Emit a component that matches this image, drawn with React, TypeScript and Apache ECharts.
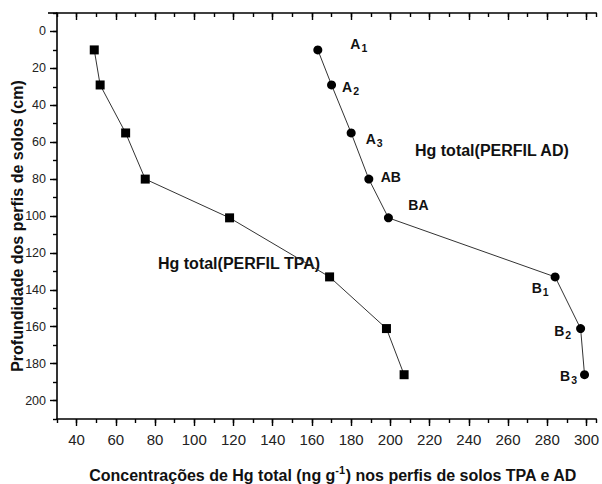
import React, { useEffect, useRef } from "react";
import * as echarts from "echarts";

// Depth (cm) of each soil horizon sample
const depths = [10, 29, 55, 80, 101, 133, 161, 186];
// Hg total concentration, TPA profile (ng g-1)
const tpaValues = [49, 52, 65, 75, 118, 169, 198, 207];
// Hg total concentration, AD profile (ng g-1)
const adValues = [163, 170, 180, 189, 199, 284, 297, 299];
// Horizon names (base + subscript)
const horizonBase = ["A", "A", "A", "AB", "BA", "B", "B", "B"];
const horizonSub = ["1", "2", "3", "", "", "1", "2", "3"];
// Tick labels
const xTickLabels = [40, 60, 80, 100, 120, 140, 160, 180, 200, 220, 240, 260, 280, 300];
const yTickLabels = [0, 20, 40, 60, 80, 100, 120, 140, 160, 180, 200];

const FONT = "'Liberation Sans', Arial, sans-serif";
const labelOffsets: [number, number][] = [
  [41, -6], [19, 2], [23, 6], [22, -2], [30, -13], [-15, 11], [-18, 2], [-16, 1],
];

export default function App() {
  const ref = useRef<HTMLDivElement>(null);
  useEffect(() => {
    if (!ref.current) return;
    const chart = echarts.init(ref.current, null, { renderer: "svg" });
    const axisLineStyle = { color: "#000", width: 1.6 };
    const tickStyle = { color: "#000", width: 1.4 };
    const xCommon = { type: "value" as const, min: 30, max: 305, splitLine: { show: false } };
    const yCommon = { type: "value" as const, min: -10, max: 210, inverse: true, splitLine: { show: false } };
    chart.setOption({
      animation: false,
      backgroundColor: "#fff",
      grid: { left: 57, top: 13, right: -1, bottom: 65 },
      xAxis: [
        {
          ...xCommon, position: "bottom", interval: 10,
          axisLine: { show: true, onZero: false, lineStyle: axisLineStyle },
          axisTick: { show: true, length: 4, lineStyle: tickStyle },
          axisLabel: { show: false },
        },
        {
          ...xCommon, position: "bottom",
          axisLine: { show: false, onZero: false },
          axisTick: { show: true, length: 7, customValues: xTickLabels, lineStyle: tickStyle },
          axisLabel: { show: true, customValues: xTickLabels, margin: 13, fontSize: 15, color: "#222", fontFamily: FONT },
        },
        {
          ...xCommon, position: "top", interval: 10,
          axisLine: { show: true, onZero: false, lineStyle: axisLineStyle },
          axisTick: { show: true, inside: true, length: 4, lineStyle: tickStyle },
          axisLabel: { show: false },
        },
        {
          ...xCommon, position: "top",
          axisLine: { show: false, onZero: false },
          axisTick: { show: true, inside: true, length: 7, customValues: xTickLabels, lineStyle: tickStyle },
          axisLabel: { show: false },
        },
      ],
      yAxis: [
        {
          ...yCommon, position: "left", interval: 10,
          axisLine: { show: true, onZero: false, lineStyle: axisLineStyle },
          axisTick: { show: true, length: 4, lineStyle: tickStyle },
          axisLabel: { show: false },
        },
        {
          ...yCommon, position: "left",
          axisLine: { show: false, onZero: false },
          axisTick: { show: true, length: 7, customValues: yTickLabels, lineStyle: tickStyle },
          axisLabel: { show: true, customValues: yTickLabels, margin: 11, fontSize: 12.5, color: "#222", fontFamily: FONT },
        },
      ],
      series: [
        {
          name: "Hg total(PERFIL TPA)",
          type: "line",
          xAxisIndex: 0,
          yAxisIndex: 0,
          data: tpaValues.map((v, i) => [v, depths[i]]),
          symbol: "rect",
          symbolSize: 9,
          itemStyle: { color: "#000" },
          lineStyle: { color: "#333", width: 1 },
        },
        {
          name: "Hg total(PERFIL AD)",
          type: "line",
          xAxisIndex: 0,
          yAxisIndex: 0,
          data: adValues.map((v, i) => ({
            value: [v, depths[i]],
            label: {
              show: true,
              position: "inside",
              offset: labelOffsets[i],
              formatter: horizonSub[i] ? `{m|${horizonBase[i]}}{s|${horizonSub[i]}}` : `{m|${horizonBase[i]}}`,
            },
          })),
          symbol: "circle",
          symbolSize: 9,
          itemStyle: { color: "#000" },
          lineStyle: { color: "#333", width: 1 },
          label: {
            rich: {
              m: { fontSize: 14, fontWeight: "bold", color: "#111", fontFamily: FONT, lineHeight: 15 },
              s: { fontSize: 10.5, fontWeight: "bold", color: "#111", fontFamily: FONT, lineHeight: 11, padding: [9, 0, 0, 1] },
            },
          },
        },
      ],
      graphic: [
        { type: "line", shape: { x1: 48, y1: 13, x2: 57, y2: 13 }, style: { stroke: "#000", lineWidth: 1.6 } },
        {
          type: "text", x: 415, y: 150,
          style: { text: "Hg total(PERFIL AD)", font: `bold 16px ${FONT}`, fill: "#111", verticalAlign: "middle" },
        },
        {
          type: "text", x: 158, y: 263,
          style: { text: "Hg total(PERFIL TPA)", font: `bold 16px ${FONT}`, fill: "#111", verticalAlign: "middle" },
        },
        {
          type: "text", x: 333, y: 475,
          style: {
            text: "{t|Concentrações de Hg total (ng g}{p|-1}{t|) nos perfis de solos TPA e AD}",
            align: "center", verticalAlign: "middle",
            rich: {
              t: { fontSize: 16, fontWeight: "bold", fill: "#111", fontFamily: FONT, lineHeight: 18 },
              p: { fontSize: 11, fontWeight: "bold", fill: "#111", fontFamily: FONT, lineHeight: 11, padding: [0, 0, 10, 0] },
            },
          },
        },
        {
          type: "text", x: 17, y: 226, rotation: Math.PI / 2,
          style: {
            text: "Profundidade dos perfis de solos (cm)",
            font: `bold 16px ${FONT}`, fill: "#111", align: "center", verticalAlign: "middle",
          },
        },
      ],
    });
    return () => chart.dispose();
  }, []);
  return <div ref={ref} style={{ width: 602, height: 484, position: "absolute", left: 0, top: 0 }} />;
}
